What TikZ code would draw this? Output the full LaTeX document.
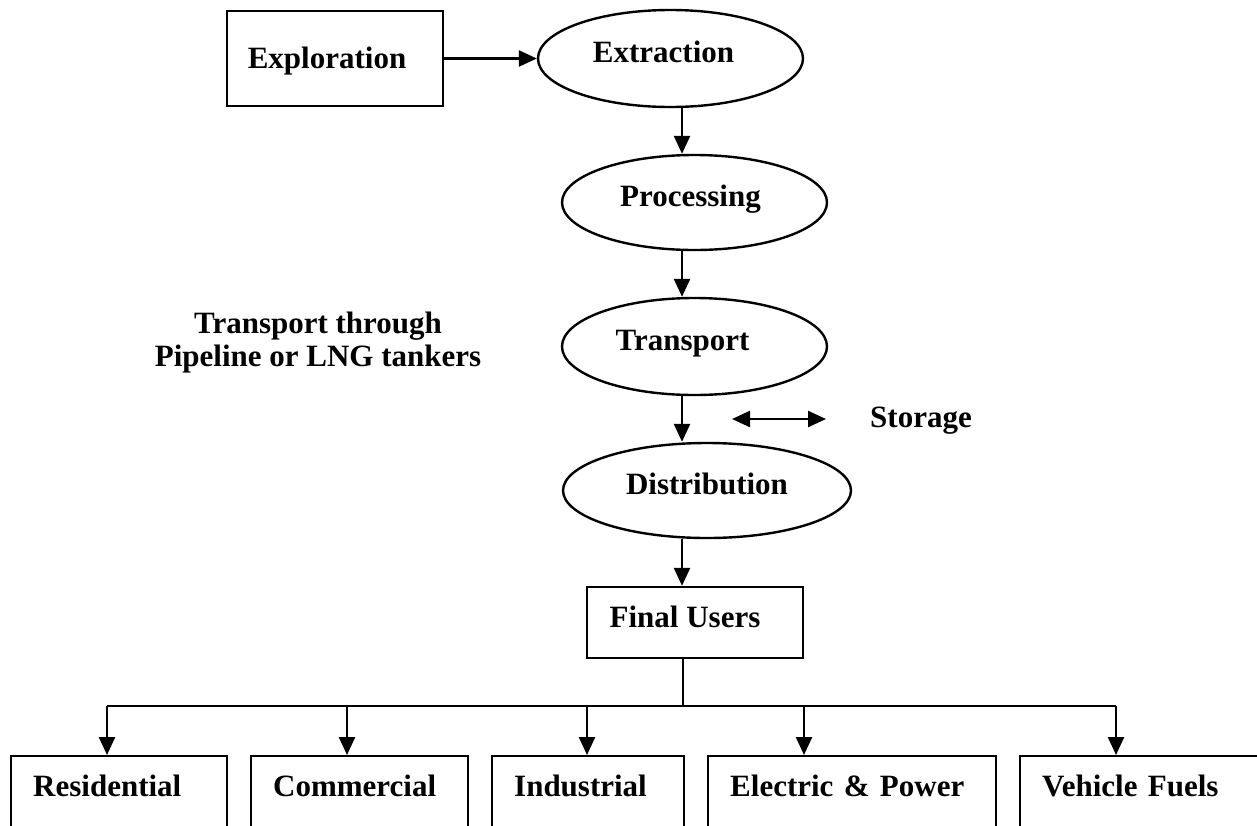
\documentclass[tikz,border=0pt]{standalone}
\usepackage{fontspec}
\setmainfont{Liberation Serif}
\usetikzlibrary{arrows.meta,shapes.geometric}

\begin{document}
\begin{tikzpicture}[x=0.5pt, y=-0.5pt, line width=1.2pt,
    every node/.style={font=\fontsize{15.5}{16.5}\selectfont\bfseries},
    flow/.style={-{Triangle[length=9pt,width=8pt]}},
    both/.style={{Triangle[length=9pt,width=8pt]}-{Triangle[length=9pt,width=8pt]}},
    stage/.style={draw, ellipse, inner sep=0pt, minimum width=132.5pt, minimum height=48.5pt,
        text height=11pt, text depth=7pt},
    box/.style={draw, rectangle, inner sep=0pt, minimum width=108pt, text height=11pt},
    user/.style={draw, rectangle, anchor=north west, inner xsep=11pt, inner ysep=0pt,
        minimum height=50pt, text width=#1, align=left, text height=11pt, text depth=21pt}]
    \useasboundingbox (0,0) rectangle (1257,825);
    \clip (0,0) rectangle (1257,825);

    % chain of stages
    \node[box, minimum height=47.5pt, text depth=1pt] (explore) at (335,58.5) {Exploration\hspace*{8pt}};
    \node[stage] (extract) at (670.5,58.5) {Extraction\hspace*{7pt}};
    \node[stage, minimum height=47.5pt] (process) at (694.5,202.5) {Processing\hspace*{4pt}};
    \node[stage] (transport) at (694.5,346.5) {Transport\hspace*{12pt}};
    \node[stage, minimum width=144pt, minimum height=47.5pt] (distrib) at (707,490.5) {Distribution};
    \node[box, minimum height=35.5pt, text depth=6pt] (users) at (695,622.5) {Final Users\hspace*{10pt}};

    \node[align=center] (route) at (318,343) {Transport through\\Pipeline or LNG tankers};
    \node (storage) at (921,421) {Storage};

    \coordinate (spine) at (682,0);
    \draw[flow] (explore.east) -- (extract.west);
    \draw[flow] (extract.south -| spine) -- (process.north -| spine);
    \draw[flow] (process.south -| spine) -- (transport.north -| spine);
    \draw[flow] (transport.south -| spine) -- (distrib.north -| spine);
    \draw[flow] (distrib.south -| spine) -- (users.north -| spine);

    \coordinate (store-a) at (732,419);
    \coordinate (store-b) at (826,419);
    \draw[both] (store-a) -- (store-b);

    % final users
    \coordinate (bus) at (683,706);
    \foreach \name/\lx/\tw/\ax/\txt in {resid/10/86pt/107/Residential,
        comm/250/86.5pt/347/Commercial, indus/491/74pt/587/Industrial,
        power/707/122pt/804/Electric \& Power, fuel/1019/120pt/1116/Vehicle Fuels}{
        \node[user=\tw] (\name) at (\lx,755) {\txt};
        \coordinate (\name-in) at (\ax,706);
        \draw[flow] (\name-in) -- (\name-in |- \name.north);
    }
    \draw (resid-in) -- (fuel-in);
    \draw (users.south -| bus) -- (bus);
\end{tikzpicture}
\end{document}
